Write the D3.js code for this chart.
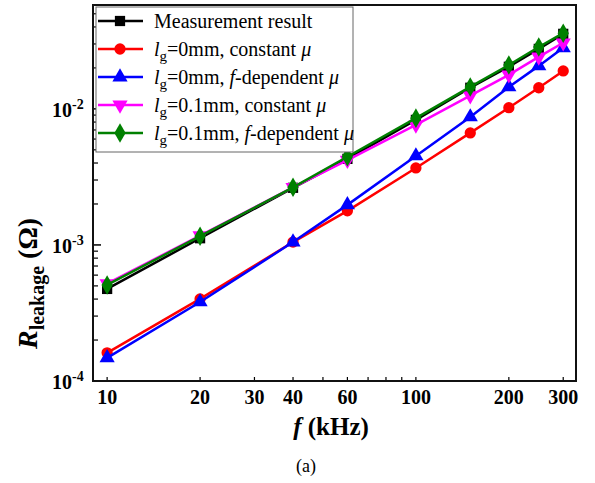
<!DOCTYPE html>
<html><head><meta charset="utf-8">
<script src="https://cdn.jsdelivr.net/npm/d3@7"></script>
<style>body{margin:0;background:#fff}svg{display:block}
text{font-family:"Liberation Serif","Times New Roman",serif;}
.fb{font-weight:bold;fill:#000}
</style>
</head><body>
<svg id="c" width="595" height="483"></svg>
<script>
const freqs = [10, 20, 40, 60, 100, 150, 200, 250, 300];
const measured   = [4.75e-4, 1.12e-3, 2.63e-3, 4.29e-3, 8.3e-3, 1.43e-2, 2.04e-2, 2.76e-2, 3.56e-2];
const lg0Const   = [1.61e-4, 4.01e-4, 1.05e-3, 1.78e-3, 3.68e-3, 6.66e-3, 1.02e-2, 1.43e-2, 1.90e-2];
const lg0Fdep    = [1.48e-4, 3.81e-4, 1.05e-3, 1.97e-3, 4.51e-3, 8.73e-3, 1.45e-2, 2.07e-2, 2.81e-2];
const lg01Const  = [5.2e-4, 1.17e-3, 2.65e-3, 4.2e-3, 7.63e-3, 1.25e-2, 1.78e-2, 2.41e-2, 3.06e-2];
const lg01Fdep   = [5.08e-4, 1.16e-3, 2.65e-3, 4.45e-3, 8.55e-3, 1.45e-2, 2.1e-2, 2.85e-2, 3.6e-2];
const xTickValues = [10, 20, 30, 40, 60, 100, 200, 300];
const xMinorTicks = [50, 70, 80, 90];
const yTickValues = [1e-4, 1e-3, 1e-2];
const yTickExp = ["-4", "-3", "-2"];

const series = [
  {name: "meas", values: measured, color: "#000000", marker: "square"},
  {name: "lg0c", values: lg0Const, color: "#ff0000", marker: "circle"},
  {name: "lg0f", values: lg0Fdep, color: "#0000ff", marker: "triangle"},
  {name: "lg01c", values: lg01Const, color: "#ff00ff", marker: "triangleDown"},
  {name: "lg01f", values: lg01Fdep, color: "#008000", marker: "diamond"}
];

const svg = d3.select("#c");
const L = 93, R = 576, T = 5, B = 381;
const x = d3.scaleLog().domain([9, 330]).range([L, R]);
const y = d3.scaleLog().domain([1e-4, 0.058]).range([B, T]);

const yMinor = [];
for (let e = -4; e <= -2; e++) for (let m = 2; m <= 9; m++) { const v = m * Math.pow(10, e); if (v < 0.058) yMinor.push(v); }

const gy = svg.append("g");
gy.selectAll("line.maj").data(yTickValues).join("line")
  .attr("x1", L).attr("x2", L + 8).attr("y1", d => y(d)).attr("y2", d => y(d))
  .attr("stroke", "#000").attr("stroke-width", 1.5);
gy.selectAll("line.min").data(yMinor).join("line")
  .attr("x1", L).attr("x2", L + 5).attr("y1", d => y(d)).attr("y2", d => y(d))
  .attr("stroke", "#000").attr("stroke-width", 1.2);
const yl = gy.selectAll("text").data(yTickValues).join("text")
  .attr("class", "fb")
  .attr("x", 52).attr("y", d => y(d) + 8).attr("font-size", 20);
yl.append("tspan").text("10");
yl.append("tspan").attr("dy", -8).attr("font-size", 14).text((d, i) => yTickExp[i]);

const gx = svg.append("g");
gx.selectAll("line").data(xTickValues.concat(xMinorTicks)).join("line")
  .attr("x1", d => x(d)).attr("x2", d => x(d)).attr("y1", B).attr("y2", B - 4)
  .attr("stroke", "#000").attr("stroke-width", 1.2);
gx.selectAll("text").data(xTickValues).join("text")
  .attr("class", "fb")
  .attr("x", d => x(d)).attr("y", 404).attr("text-anchor", "middle").attr("font-size", 20)
  .text(d => d);

svg.append("rect").attr("x", L).attr("y", T).attr("width", R - L).attr("height", B - T)
  .attr("fill", "none").attr("stroke", "#111").attr("stroke-width", 2);

function sym(type, size) {
  const m = {square: d3.symbolSquare, circle: d3.symbolCircle, triangle: d3.symbolTriangle,
             triangleDown: d3.symbolTriangle, diamond: d3.symbolDiamond}[type];
  return d3.symbol().type(m).size(size)();
}
const sizes = {square: 105, circle: 100, triangle: 100, triangleDown: 100, diamond: 110};

const line = d3.line().x((d, i) => x(freqs[i])).y(d => y(d));
series.forEach(s => {
  const g = svg.append("g");
  g.append("path").attr("d", line(s.values)).attr("fill", "none")
    .attr("stroke", s.color).attr("stroke-width", 2.5);
  g.selectAll("path.m").data(s.values).join("path").attr("class", "m")
    .attr("d", sym(s.marker, sizes[s.marker]))
    .attr("transform", (d, i) => `translate(${x(freqs[i])},${y(d)})` + (s.marker === "triangleDown" ? " rotate(180)" : ""))
    .attr("fill", s.color);
});

const lg = svg.append("g");
lg.append("rect").attr("x", 96).attr("y", 7).attr("width", 257).attr("height", 145)
  .attr("fill", "#fff").attr("stroke", "#666").attr("stroke-width", 1);
const rowY = [21, 49, 77, 105, 133];
series.forEach((s, i) => {
  lg.append("line").attr("x1", 98).attr("x2", 143).attr("y1", rowY[i]).attr("y2", rowY[i])
    .attr("stroke", s.color).attr("stroke-width", 2.5);
  lg.append("path").attr("d", sym(s.marker, sizes[s.marker]))
    .attr("transform", `translate(120,${rowY[i]})` + (s.marker === "triangleDown" ? " rotate(180)" : ""))
    .attr("fill", s.color);
});
function legText(i) {
  return lg.append("text").attr("x", 154).attr("y", rowY[i] + 7).attr("font-size", 20);
}
legText(0).text("Measurement result");
const lgLabels = [
  ["=0mm, ", null, "constant "],
  ["=0mm, ", "f", "-dependent "],
  ["=0.1mm, ", null, "constant "],
  ["=0.1mm, ", "f", "-dependent "]
];
lgLabels.forEach((parts, k) => {
  const t = legText(k + 1);
  t.append("tspan").attr("font-style", "italic").text("l");
  t.append("tspan").attr("dy", 5).attr("font-size", 15).text("g");
  t.append("tspan").attr("dy", -5).text(parts[0]);
  if (parts[1]) t.append("tspan").attr("font-style", "italic").text(parts[1]);
  t.append("tspan").text(parts[2]);
  t.append("tspan").attr("font-style", "italic").text("μ");
});

const xt = svg.append("text").attr("class", "fb").attr("x", 331).attr("y", 435).attr("text-anchor", "middle")
  .attr("font-size", 25);
xt.append("tspan").attr("font-style", "italic").text("f");
xt.append("tspan").text(" (kHz)");

const yt = svg.append("text").attr("class", "fb").attr("transform", "translate(37,349) rotate(-90)")
  .attr("text-anchor", "start").attr("font-size", 28);
yt.append("tspan").attr("font-style", "italic").text("R");
yt.append("tspan").attr("dy", 7).attr("font-size", 20).text("leakage");
yt.append("tspan").attr("dy", -7).text(" (Ω)");

svg.append("text").attr("x", 306).attr("y", 472).attr("text-anchor", "middle")
  .attr("font-size", 18).text("(a)");
</script>
</body></html>
